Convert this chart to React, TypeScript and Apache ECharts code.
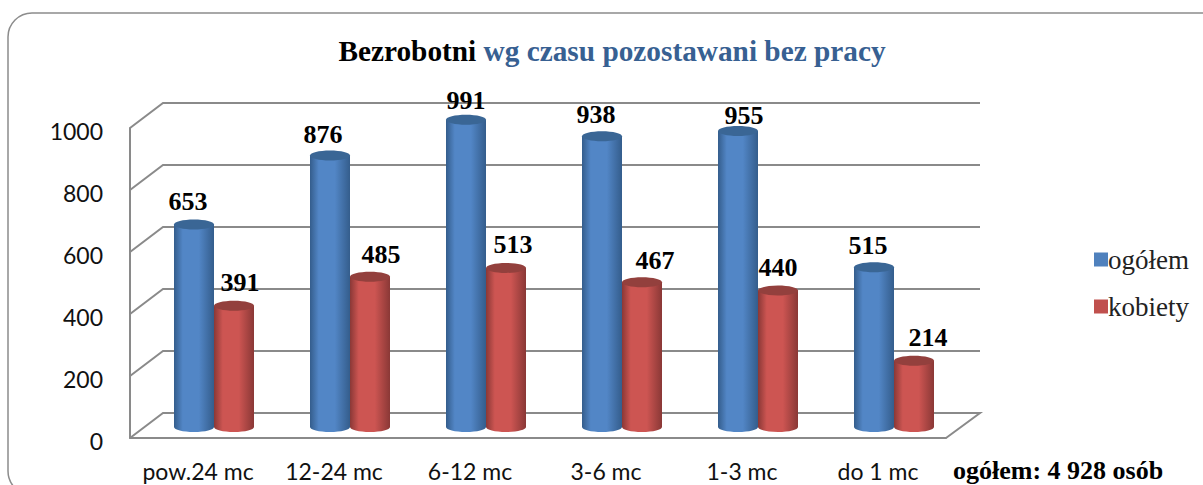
import React, { useEffect, useRef } from "react";
import * as echarts from "echarts";

const categories = ["pow.24 mc", "12-24 mc", "6-12 mc", "3-6 mc", "1-3 mc", "do 1 mc"];
const ogolem = [653, 876, 991, 938, 955, 515];
const kobiety = [391, 485, 513, 467, 440, 214];
const yTicks = [0, 200, 400, 600, 800, 1000];
const titleBlack = "Bezrobotni ";
const titleBlue = "wg czasu pozostawani bez pracy";
const totalNote = "ogółem: 4 928 osób";

// layout constants: label nudges seen in the reference, depth of the 3D box
const blueLabelDx = [-6, -7, 0, -6, 6, -6];
const redLabelDx = [6, 11, 7, 13, 0, 14];
const blueLabelDy = [-23, -21, -19, -22, -15, -22];
const redLabelDy = [-23, -22, -23, -22, -23, -23];
const DEPTH_X = 33;
const DEPTH_Y = 25;
const GRID_COLOR = "#8a8a8a";
const SERIF = '"Liberation Serif", "Times New Roman", serif';
const SANS = 'Lato, "Open Sans", sans-serif';

function cylinder(
  palette: { dark: string; light: string; top: string },
  shift: number,
  dxs: number[],
  dys: number[]
) {
  return (_params: any, api: any) => {
    const i = api.value(0);
    const v = api.value(1);
    const [cx0, y0] = api.coord([i, 0]);
    const [, yv] = api.coord([i, v]);
    const cx = cx0 + 16 + shift;
    const base = y0 - 11;
    const top = yv - 11;
    const rx = 20;
    const ry = 5;
    const fill = new echarts.graphic.LinearGradient(0, 0, 1, 0, [
      { offset: 0, color: palette.dark },
      { offset: 0.22, color: palette.light },
      { offset: 0.62, color: palette.light },
      { offset: 1, color: palette.dark },
    ]);
    return {
      type: "group",
      children: [
        { type: "ellipse", shape: { cx, cy: base, rx, ry }, style: { fill } },
        { type: "rect", shape: { x: cx - rx, y: top, width: rx * 2, height: base - top }, style: { fill } },
        { type: "ellipse", shape: { cx, cy: top, rx, ry }, style: { fill: palette.top } },
        {
          type: "text",
          z2: 100,
          style: {
            text: String(v),
            x: cx + dxs[i],
            y: top + dys[i],
            align: "center",
            verticalAlign: "middle",
            font: `bold 26px ${SERIF}`,
            fill: "#000",
          },
        },
      ],
    };
  };
}

function wallLine(params: any, api: any) {
  const v = api.value(1);
  const [, y] = api.coord([0, v]);
  const left = params.coordSys.x;
  const right = left + params.coordSys.width;
  const points: number[][] = [
    [left, y],
    [left + DEPTH_X, y - DEPTH_Y],
    [right + DEPTH_X + 1, y - DEPTH_Y],
  ];
  if (v === 0) points.push([right, y]);
  return {
    type: "polyline",
    shape: { points },
    style: { stroke: GRID_COLOR, lineWidth: 2, fill: "none" },
  };
}

export default function App() {
  const ref = useRef<HTMLDivElement>(null);
  useEffect(() => {
    const chart = echarts.init(ref.current!, null, { renderer: "svg" });
    chart.setOption({
      animation: false,
      backgroundColor: "#fff",
      title: {
        text: `{k|${titleBlack}}{b|${titleBlue}}`,
        left: 607,
        top: 31,
        textAlign: "center",
        textStyle: {
          rich: {
            k: { fontFamily: SERIF, fontWeight: "bold", fontSize: 29.3, color: "#000" },
            b: { fontFamily: SERIF, fontWeight: "bold", fontSize: 29.3, color: "#376092" },
          },
        },
      },
      legend: {
        data: ["ogółem", "kobiety"],
        orient: "vertical",
        left: 1089,
        top: 241,
        icon: "rect",
        itemWidth: 14,
        itemHeight: 14,
        itemGap: 20,
        textStyle: { fontFamily: SERIF, fontSize: 27, color: "#222", padding: [0, 0, 0, -5] },
        selectedMode: false,
      },
      grid: { left: 130, top: 128, width: 816, height: 310 },
      xAxis: {
        type: "category",
        data: categories,
        axisTick: { show: false },
        axisLine: { lineStyle: { color: GRID_COLOR, width: 2 } },
        axisLabel: {
          fontFamily: SANS,
          fontSize: 23,
          color: "#111",
          margin: 23,
          lineHeight: 20,
          interval: 0,
          hideOverlap: false,
        },
      },
      yAxis: {
        type: "value",
        min: 0,
        max: 1000,
        interval: 200,
        axisTick: { show: false },
        axisLine: { show: true, lineStyle: { color: GRID_COLOR, width: 2 } },
        axisLabel: {
          fontFamily: SANS,
          fontSize: 23,
          color: "#111",
          margin: 27,
          verticalAlign: "top",
          lineHeight: 6,
          formatter: (v: number) => String(v),
        },
        splitLine: { show: false },
      },
      graphic: [
        {
          type: "rect",
          z: -10,
          shape: { x: 8, y: 13, width: 1300, height: 482, r: 24 },
          style: { fill: "#fff", stroke: "#8c8c8c", lineWidth: 1.5 },
        },
        {
          type: "text",
          x: 953,
          y: 470,
          style: {
            text: totalNote,
            font: `bold 26px ${SERIF}`,
            fill: "#000",
            lineHeight: 22,
            verticalAlign: "middle",
          },
        },
      ],
      series: [
        {
          type: "custom",
          name: "walls",
          silent: true,
          z: 1,
          renderItem: wallLine,
          data: yTicks.map((v) => [0, v]),
        },
        {
          type: "custom",
          name: "ogółem",
          silent: true,
          z: 2,
          itemStyle: { color: "#4f81bd" },
          renderItem: cylinder({ dark: "#345d8c", light: "#5286c6", top: "#3a6695" }, -20, blueLabelDx, blueLabelDy),
          data: ogolem.map((v, i) => [i, v]),
        },
        {
          type: "custom",
          name: "kobiety",
          silent: true,
          z: 3,
          itemStyle: { color: "#c0504d" },
          renderItem: cylinder({ dark: "#8a3836", light: "#cd5552", top: "#93403d" }, 20, redLabelDx, redLabelDy),
          data: kobiety.map((v, i) => [i, v]),
        },
      ],
    });
    return () => chart.dispose();
  }, []);
  return (
    <div
      ref={ref}
      style={{ position: "absolute", left: 0, top: 0, width: 1203, height: 485, overflow: "hidden" }}
    />
  );
}
